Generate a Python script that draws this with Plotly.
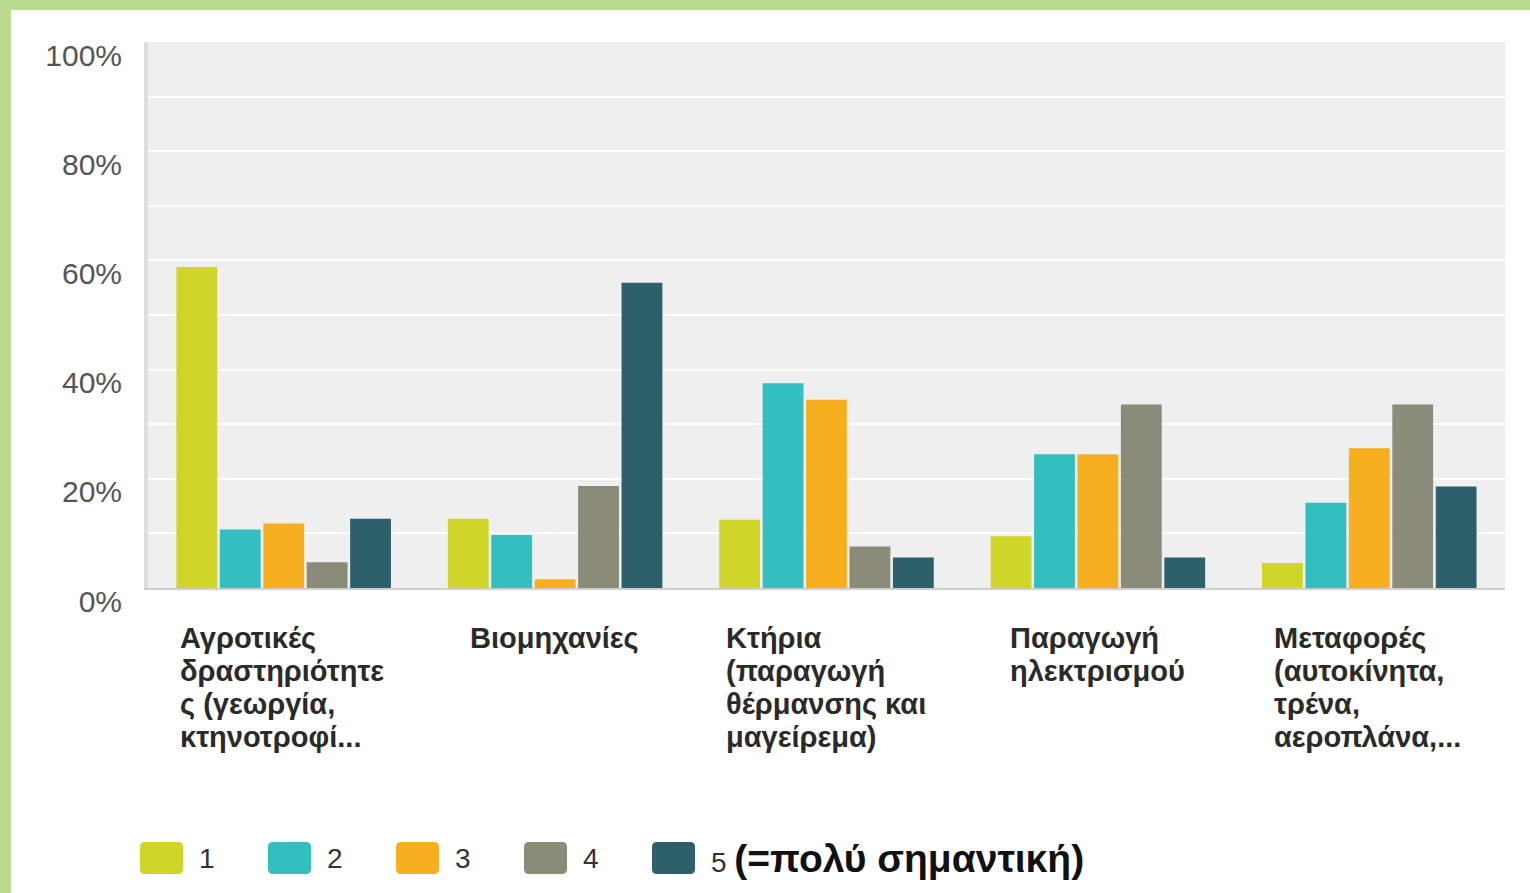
import plotly.graph_objects as go

categories = [
    ["Αγροτικές", "δραστηριότητε", "ς (γεωργία,", "κτηνοτροφί..."],
    ["Βιομηχανίες"],
    ["Κτήρια", "(παραγωγή", "θέρμανσης και", "μαγείρεμα)"],
    ["Παραγωγή", "ηλεκτρισμού"],
    ["Μεταφορές", "(αυτοκίνητα,", "τρένα,", "αεροπλάνα,..."],
]
series_names = ["1", "2", "3", "4", "5 (=πολύ σημαντική)"]
legend_labels = ["1", "2", "3", "4",
                 "5 <b><span style='font-size:39px;color:#111'>(=πολύ σημαντική)</span></b>"]
colors = ["#d0d52a", "#33bec0", "#f7af20", "#8b8b79", "#2e606c"]

values = [
    [58.8, 12.7, 12.5, 9.5, 4.6],   # 1
    [10.7, 9.7, 37.5, 24.5, 15.6],  # 2
    [11.8, 1.6, 34.5, 24.5, 25.6],  # 3
    [4.7, 18.7, 7.6, 33.6, 33.6],   # 4
    [12.7, 55.9, 5.6, 5.6, 18.6],   # 5
]
tick_vals = [0, 10, 20, 30, 40, 50, 60, 70, 80, 90, 100]
tick_text = ["0%", "", "20%", "", "40%", "", "60%", "", "80%", "", "100%"]

W, H = 1530, 893
L, R, T, B = 148, 25, 42, 305
pw, ph = W - L - R, H - T - B

def px2x(px):
    return (px - L) / pw

def px2y(py):
    return (H - B - py) / ph

# label block left edges (px) and line layout
label_left_px = [178, 468, 724, 1008, 1272]
label_first_line_px = 638
label_line_step = 33

idx = list(range(len(categories)))
fig = go.Figure()
for name, col, vals in zip(series_names, colors, values):
    fig.add_trace(go.Bar(x=idx, y=vals, name=name, marker=dict(color=col, line=dict(width=0)),
                         showlegend=False))

fig.update_layout(
    width=W, height=H,
    margin=dict(l=L, r=R, t=T, b=B),
    paper_bgcolor="white",
    plot_bgcolor="#efefef",
    barmode="group",
    bargap=0.2,
    bargroupgap=0.06,
    font=dict(family="Liberation Sans, Arial, sans-serif", color="#444"),
    xaxis=dict(range=[-0.5, 4.5], showticklabels=False, showgrid=False, zeroline=False,
               showline=True, linecolor="#cfcfcf", linewidth=2, ticks=""),
    yaxis=dict(range=[0, 100], tickvals=tick_vals, ticktext=tick_text, showgrid=True,
               gridcolor="white", gridwidth=2, zeroline=False, showline=True,
               linecolor="#dedede", linewidth=4, ticks="",
               tickfont=dict(size=30, color="#555"), ticklabelshift=13,
               ticklabelstandoff=16),
)

# category labels (one annotation per line, left-aligned block)
for lines, left in zip(categories, label_left_px):
    for k, line in enumerate(lines):
        fig.add_annotation(x=px2x(left), y=px2y(label_first_line_px + k * label_line_step),
                           xref="paper", yref="paper", text="<b>" + line + "</b>",
                           showarrow=False, xanchor="left", yanchor="middle",
                           font=dict(size=29, color="#2a2a2a"))

# green frame
fig.add_shape(type="rect", xref="paper", yref="paper", x0=px2x(0), x1=px2x(11),
              y0=px2y(H), y1=px2y(0), fillcolor="#bbdb8f", line=dict(width=0), layer="below")
fig.add_shape(type="rect", xref="paper", yref="paper", x0=px2x(0), x1=px2x(W),
              y0=px2y(10), y1=px2y(0), fillcolor="#bbdb8f", line=dict(width=0), layer="below")

# legend
sw_left = [140, 268, 396, 524, 652]
for xl, col, lab in zip(sw_left, colors, legend_labels):
    x0, x1 = px2x(xl), px2x(xl + 43)
    y0, y1 = px2y(874), px2y(842)
    rx, ry = px2x(xl + 5) - px2x(xl), px2y(842) - px2y(847)
    path = (f"M{x0+rx},{y1} L{x1-rx},{y1} Q{x1},{y1} {x1},{y1-ry} L{x1},{y0+ry} "
            f"Q{x1},{y0} {x1-rx},{y0} L{x0+rx},{y0} Q{x0},{y0} {x0},{y0+ry} "
            f"L{x0},{y1-ry} Q{x0},{y1} {x0+rx},{y1} Z")
    fig.add_shape(type="path", xref="paper", yref="paper", path=path, fillcolor=col,
                  line=dict(width=0))
    fig.add_annotation(x=px2x(xl + 57), y=px2y(858), xref="paper", yref="paper", text=lab,
                       showarrow=False, xanchor="left", yanchor="middle",
                       font=dict(size=28, color="#333"))

fig.write_html("out.html", config={"displayModeBar": False},
               post_script="document.body.style.margin='0';")
